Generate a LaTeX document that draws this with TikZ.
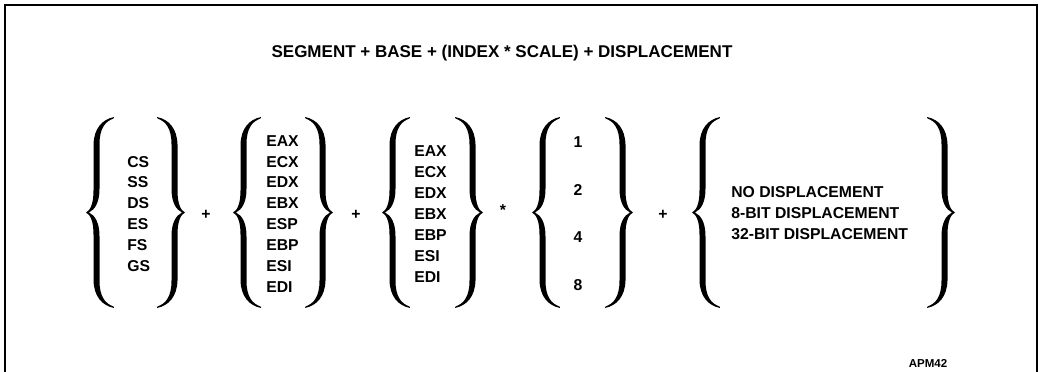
\documentclass[tikz,border=0pt]{standalone}
\usepackage{fontspec}
\setmainfont{Liberation Sans}
\tikzset{
  lbrace/.pic={
    \fill (28,-95.5) .. controls (16,-93) and (8,-84) .. (7.5,-68)
      -- (7.5,-22) .. controls (7.5,-8) and (4,-2) .. (0,0)
      .. controls (4,2) and (7.5,8) .. (7.5,22)
      -- (7.5,68) .. controls (8,84) and (16,93) .. (28,95.5)
      -- (27.5,94) .. controls (19,91) and (13.5,84) .. (13.5,68)
      -- (13.5,24) .. controls (13.5,10) and (9,3) .. (3,0)
      .. controls (9,-3) and (13.5,-10) .. (13.5,-24)
      -- (13.5,-68) .. controls (13.5,-84) and (19,-91) .. (27.5,-94)
      -- cycle;
  }
}
\begin{document}
\begin{tikzpicture}
  [x=0.025cm,y=-0.025cm,
   every node/.style={inner sep=0pt,align=left,font=\bfseries\fontsize{11.2}{14.9}\selectfont}]
  \useasboundingbox (0,0) rectangle (1042,372);
  \draw[line width=2.1pt] (5,372) -- (5,5) -- (1037,5) -- (1037,372);
  \node (title)[font=\bfseries\fontsize{12.1}{14}\selectfont] at (502,53) {SEGMENT + BASE + (INDEX * SCALE) + DISPLACEMENT};
  % register lists
  \node (seg)[anchor=west] at (127,214) {CS\\SS\\DS\\ES\\FS\\GS};
  \node (base)[anchor=west] at (266,214) {EAX\\ECX\\EDX\\EBX\\ESP\\EBP\\ESI\\EDI};
  \node (index)[anchor=west] at (414,214) {EAX\\ECX\\EDX\\EBX\\EBP\\ESI\\EDI};
  \foreach \n/\y in {1/142,2/190,4/237,8/285}
    \node (s\n) at (578,\y) {\n};
  \node (disp)[anchor=west] at (731,213.5) {NO DISPLACEMENT\\8-BIT DISPLACEMENT\\32-BIT DISPLACEMENT};
  % operators
  \node (p1) at (206,215) {+};
  \node (p2) at (356,215) {+};
  \node (mul) at (503,210) {*};
  \node (p3) at (663,215) {+};
  % braces
  \foreach \l/\r in {86/185,233/333,382/483,532/633,692/955}{
    \pic at (\l,212.5) {lbrace};
    \pic[xscale=-1] at (\r,212.5) {lbrace};
  }
  \node (apm)[font=\bfseries\fontsize{8.2}{10}\selectfont] at (928,363) {APM42};
\end{tikzpicture}
\end{document}
